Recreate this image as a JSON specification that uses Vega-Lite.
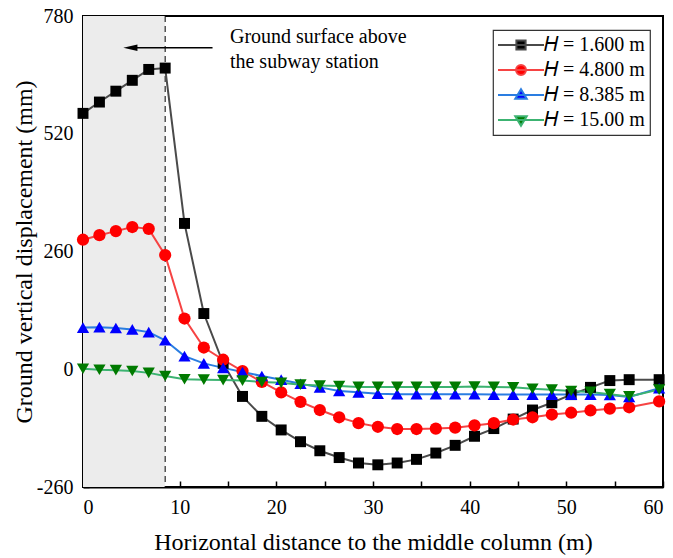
{
  "$schema": "https://vega.github.io/schema/vega-lite/v6.json",
  "width": 580,
  "height": 471,
  "autosize": {"type": "none"},
  "padding": {"left": 83, "top": 16, "right": 10, "bottom": 71},
  "background": "white",
  "config": {
    "font": "Liberation Serif",
    "view": {"stroke": "black", "strokeWidth": 2},
    "axis": {"grid": false, "domainColor": "black", "domainWidth": 2, "tickColor": "black", "tickWidth": 1.5, "labelColor": "black", "titleColor": "black", "labelFont": "Liberation Serif", "titleFont": "Liberation Serif", "labelFontSize": 20, "titleFontSize": 24, "titleFontWeight": "normal"},
    "legend": {"disable": false, "orient": "none", "legendX": 410, "legendY": 14, "strokeColor": "#333333", "strokeWidth": 1.2, "fillColor": "white", "padding": 5, "labelFont": "Liberation Serif", "labelFontSize": 20, "labelColor": "black", "symbolSize": 235, "symbolStrokeWidth": 2, "symbolOpacity": 1, "symbolOffset": 13, "labelOffset": 13, "rowPadding": 5}
  },
  "datasets": {
    "pts": [
      {"x": 0, "y": 565, "s": "H = 1.600 m"}, {"x": 1.7, "y": 590, "s": "H = 1.600 m"}, {"x": 3.4, "y": 614, "s": "H = 1.600 m"}, {"x": 5.1, "y": 638, "s": "H = 1.600 m"}, {"x": 6.8, "y": 662, "s": "H = 1.600 m"}, {"x": 8.5, "y": 665, "s": "H = 1.600 m"}, {"x": 10.5, "y": 322, "s": "H = 1.600 m"}, {"x": 12.5, "y": 123, "s": "H = 1.600 m"}, {"x": 14.5, "y": 13, "s": "H = 1.600 m"}, {"x": 16.5, "y": -60, "s": "H = 1.600 m"}, {"x": 18.5, "y": -104, "s": "H = 1.600 m"}, {"x": 20.5, "y": -134, "s": "H = 1.600 m"}, {"x": 22.5, "y": -160, "s": "H = 1.600 m"}, {"x": 24.5, "y": -180, "s": "H = 1.600 m"}, {"x": 26.5, "y": -195, "s": "H = 1.600 m"}, {"x": 28.5, "y": -207, "s": "H = 1.600 m"}, {"x": 30.5, "y": -211, "s": "H = 1.600 m"}, {"x": 32.5, "y": -207, "s": "H = 1.600 m"}, {"x": 34.5, "y": -199, "s": "H = 1.600 m"}, {"x": 36.5, "y": -185, "s": "H = 1.600 m"}, {"x": 38.5, "y": -168, "s": "H = 1.600 m"}, {"x": 40.5, "y": -148, "s": "H = 1.600 m"}, {"x": 42.5, "y": -131, "s": "H = 1.600 m"}, {"x": 44.5, "y": -110, "s": "H = 1.600 m"}, {"x": 46.5, "y": -90, "s": "H = 1.600 m"}, {"x": 48.5, "y": -74, "s": "H = 1.600 m"}, {"x": 50.5, "y": -56, "s": "H = 1.600 m"}, {"x": 52.5, "y": -40, "s": "H = 1.600 m"}, {"x": 54.5, "y": -25, "s": "H = 1.600 m"}, {"x": 56.5, "y": -23, "s": "H = 1.600 m"}, {"x": 59.6, "y": -23, "s": "H = 1.600 m"},
      {"x": 0, "y": 286, "s": "H = 4.800 m"}, {"x": 1.7, "y": 296, "s": "H = 4.800 m"}, {"x": 3.4, "y": 305, "s": "H = 4.800 m"}, {"x": 5.1, "y": 314, "s": "H = 4.800 m"}, {"x": 6.8, "y": 310, "s": "H = 4.800 m"}, {"x": 8.5, "y": 252, "s": "H = 4.800 m"}, {"x": 10.5, "y": 112, "s": "H = 4.800 m"}, {"x": 12.5, "y": 48, "s": "H = 4.800 m"}, {"x": 14.5, "y": 21, "s": "H = 4.800 m"}, {"x": 16.5, "y": -4, "s": "H = 4.800 m"}, {"x": 18.5, "y": -28, "s": "H = 4.800 m"}, {"x": 20.5, "y": -51, "s": "H = 4.800 m"}, {"x": 22.5, "y": -72, "s": "H = 4.800 m"}, {"x": 24.5, "y": -90, "s": "H = 4.800 m"}, {"x": 26.5, "y": -106, "s": "H = 4.800 m"}, {"x": 28.5, "y": -119, "s": "H = 4.800 m"}, {"x": 30.5, "y": -127, "s": "H = 4.800 m"}, {"x": 32.5, "y": -132, "s": "H = 4.800 m"}, {"x": 34.5, "y": -132, "s": "H = 4.800 m"}, {"x": 36.5, "y": -131, "s": "H = 4.800 m"}, {"x": 38.5, "y": -129, "s": "H = 4.800 m"}, {"x": 40.5, "y": -124, "s": "H = 4.800 m"}, {"x": 42.5, "y": -119, "s": "H = 4.800 m"}, {"x": 44.5, "y": -111, "s": "H = 4.800 m"}, {"x": 46.5, "y": -106, "s": "H = 4.800 m"}, {"x": 48.5, "y": -100, "s": "H = 4.800 m"}, {"x": 50.5, "y": -96, "s": "H = 4.800 m"}, {"x": 52.5, "y": -91, "s": "H = 4.800 m"}, {"x": 54.5, "y": -87, "s": "H = 4.800 m"}, {"x": 56.5, "y": -84, "s": "H = 4.800 m"}, {"x": 59.6, "y": -71, "s": "H = 4.800 m"},
      {"x": 0, "y": 92, "s": "H = 8.385 m"}, {"x": 1.7, "y": 93, "s": "H = 8.385 m"}, {"x": 3.4, "y": 91, "s": "H = 8.385 m"}, {"x": 5.1, "y": 88, "s": "H = 8.385 m"}, {"x": 6.8, "y": 82, "s": "H = 8.385 m"}, {"x": 8.5, "y": 64, "s": "H = 8.385 m"}, {"x": 10.5, "y": 29, "s": "H = 8.385 m"}, {"x": 12.5, "y": 13, "s": "H = 8.385 m"}, {"x": 14.5, "y": 3, "s": "H = 8.385 m"}, {"x": 16.5, "y": -6, "s": "H = 8.385 m"}, {"x": 18.5, "y": -15, "s": "H = 8.385 m"}, {"x": 20.5, "y": -23, "s": "H = 8.385 m"}, {"x": 22.5, "y": -32, "s": "H = 8.385 m"}, {"x": 24.5, "y": -40, "s": "H = 8.385 m"}, {"x": 26.5, "y": -48, "s": "H = 8.385 m"}, {"x": 28.5, "y": -51, "s": "H = 8.385 m"}, {"x": 30.5, "y": -54, "s": "H = 8.385 m"}, {"x": 32.5, "y": -55, "s": "H = 8.385 m"}, {"x": 34.5, "y": -55, "s": "H = 8.385 m"}, {"x": 36.5, "y": -55, "s": "H = 8.385 m"}, {"x": 38.5, "y": -55, "s": "H = 8.385 m"}, {"x": 40.5, "y": -55, "s": "H = 8.385 m"}, {"x": 42.5, "y": -56, "s": "H = 8.385 m"}, {"x": 44.5, "y": -56, "s": "H = 8.385 m"}, {"x": 46.5, "y": -56, "s": "H = 8.385 m"}, {"x": 48.5, "y": -56, "s": "H = 8.385 m"}, {"x": 50.5, "y": -56, "s": "H = 8.385 m"}, {"x": 52.5, "y": -56, "s": "H = 8.385 m"}, {"x": 54.5, "y": -57, "s": "H = 8.385 m"}, {"x": 56.5, "y": -61, "s": "H = 8.385 m"}, {"x": 59.6, "y": -42, "s": "H = 8.385 m"},
      {"x": 0, "y": 1, "s": "H = 15.00 m"}, {"x": 1.7, "y": -1, "s": "H = 15.00 m"}, {"x": 3.4, "y": -2, "s": "H = 15.00 m"}, {"x": 5.1, "y": -4, "s": "H = 15.00 m"}, {"x": 6.8, "y": -8, "s": "H = 15.00 m"}, {"x": 8.5, "y": -15, "s": "H = 15.00 m"}, {"x": 10.5, "y": -22, "s": "H = 15.00 m"}, {"x": 12.5, "y": -23, "s": "H = 15.00 m"}, {"x": 14.5, "y": -24, "s": "H = 15.00 m"}, {"x": 16.5, "y": -25, "s": "H = 15.00 m"}, {"x": 18.5, "y": -28, "s": "H = 15.00 m"}, {"x": 20.5, "y": -30, "s": "H = 15.00 m"}, {"x": 22.5, "y": -34, "s": "H = 15.00 m"}, {"x": 24.5, "y": -36, "s": "H = 15.00 m"}, {"x": 26.5, "y": -37, "s": "H = 15.00 m"}, {"x": 28.5, "y": -39, "s": "H = 15.00 m"}, {"x": 30.5, "y": -39, "s": "H = 15.00 m"}, {"x": 32.5, "y": -39, "s": "H = 15.00 m"}, {"x": 34.5, "y": -39, "s": "H = 15.00 m"}, {"x": 36.5, "y": -39, "s": "H = 15.00 m"}, {"x": 38.5, "y": -39, "s": "H = 15.00 m"}, {"x": 40.5, "y": -38, "s": "H = 15.00 m"}, {"x": 42.5, "y": -39, "s": "H = 15.00 m"}, {"x": 44.5, "y": -40, "s": "H = 15.00 m"}, {"x": 46.5, "y": -43, "s": "H = 15.00 m"}, {"x": 48.5, "y": -45, "s": "H = 15.00 m"}, {"x": 50.5, "y": -48, "s": "H = 15.00 m"}, {"x": 52.5, "y": -50, "s": "H = 15.00 m"}, {"x": 54.5, "y": -55, "s": "H = 15.00 m"}, {"x": 56.5, "y": -60, "s": "H = 15.00 m"}, {"x": 59.6, "y": -45, "s": "H = 15.00 m"}
    ],
    "series": [
      {"s": "H = 1.600 m", "x": 30, "y": 0},
      {"s": "H = 4.800 m", "x": 30, "y": 0},
      {"s": "H = 8.385 m", "x": 30, "y": 0},
      {"s": "H = 15.00 m", "x": 30, "y": 0}
    ]
  },
  "layer": [
    {
      "data": {"values": [{"a": 0, "b": 8.5}]},
      "mark": {"type": "rect", "fill": "#ececec", "y": 0, "y2": {"expr": "height"}},
      "encoding": {
        "x": {"field": "a", "type": "quantitative", "scale": {"domain": [0, 60], "nice": false}},
        "x2": {"field": "b"}
      }
    },
    {
      "data": {"values": [{"a": 8.5}]},
      "mark": {"type": "rule", "color": "black", "strokeDash": [6, 4], "strokeWidth": 1},
      "encoding": {"x": {"field": "a", "type": "quantitative"}}
    },
    {
      "data": {"values": [{"x1": 13.4, "x2": 5.2, "y": 710}]},
      "mark": {"type": "rule", "color": "black", "strokeWidth": 1.5},
      "encoding": {"x": {"field": "x1", "type": "quantitative"}, "x2": {"field": "x2"}, "y": {"field": "y", "type": "quantitative"}}
    },
    {
      "data": {"values": [{"x": 4.9, "y": 710}]},
      "mark": {"type": "point", "shape": "M-1,0L1,-0.45L1,0.45Z", "filled": true, "color": "black", "size": 200, "opacity": 1},
      "encoding": {"x": {"field": "x", "type": "quantitative"}, "y": {"field": "y", "type": "quantitative"}}
    },
    {
      "data": {"values": [{"x": 15.2, "y": 733, "t": "Ground surface above"}, {"x": 15.2, "y": 678, "t": "the subway station"}]},
      "mark": {"type": "text", "align": "left", "baseline": "middle", "font": "Liberation Serif", "fontSize": 20, "color": "black"},
      "encoding": {"x": {"field": "x", "type": "quantitative"}, "y": {"field": "y", "type": "quantitative"}, "text": {"field": "t"}}
    },
    {
      "data": {"name": "series"},
      "mark": {"type": "point", "filled": true, "opacity": 0, "strokeWidth": 2, "size": 235},
      "encoding": {
        "x": {"field": "x", "type": "quantitative", "title": "Horizontal distance to the middle column (m)",
          "axis": {"values": [0, 5, 10, 15, 20, 25, 30, 35, 40, 45, 50, 55, 60], "labelExpr": "datum.value % 10 == 0 ? datum.label : ''", "tickSize": -6, "labelPadding": 16, "titlePadding": 13}},
        "y": {"field": "y", "type": "quantitative", "title": "Ground vertical displacement (mm)",
          "scale": {"domain": [-260, 780], "nice": false},
          "axis": {"values": [-260, -130, 0, 130, 260, 390, 520, 650, 780], "labelExpr": "datum.value % 260 == 0 ? replace(datum.label, '\u2212', '-') : ''", "tickSize": -6, "labelPadding": 16, "titlePadding": 0}},
        "stroke": {"field": "s", "type": "nominal",
          "scale": {"domain": ["H = 1.600 m", "H = 4.800 m", "H = 8.385 m", "H = 15.00 m"], "range": ["#4a4a4a", "#f64343", "#2a7de1", "#3cb371"]},
          "legend": {"disable": false, "title": null, "labelExpr": "replace(datum.label, 'H', '\ud835\udc3b')"}},
        "fill": {"field": "s", "type": "nominal",
          "scale": {"domain": ["H = 1.600 m", "H = 4.800 m", "H = 8.385 m", "H = 15.00 m"], "range": ["#000000", "#ff0000", "#0000ff", "#007a00"]},
          "legend": {"disable": false, "title": null, "labelExpr": "replace(datum.label, 'H', '\ud835\udc3b')"}},
        "shape": {"field": "s", "type": "nominal",
          "scale": {"domain": ["H = 1.600 m", "H = 4.800 m", "H = 8.385 m", "H = 15.00 m"], "range": ["M-3,0H3M-0.6,-0.6H0.6V0.6H-0.6Z", "M-3,0H3M0.65,0A0.65,0.65 0 1,1 -0.65,0A0.65,0.65 0 1,1 0.65,0Z", "M-3,0H3M0,-0.75L0.75,0.5H-0.75Z", "M-3,0H3M0,0.75L0.75,-0.5H-0.75Z"]},
          "legend": {"disable": false, "title": null, "labelExpr": "replace(datum.label, 'H', '\ud835\udc3b')"}}
      }
    },
    {
      "data": {"name": "pts"},
      "transform": [{"filter": "datum.s == 'H = 1.600 m'"}],
      "mark": {"type": "line", "strokeWidth": 2, "color": "#4a4a4a"},
      "encoding": {"x": {"field": "x", "type": "quantitative"}, "y": {"field": "y", "type": "quantitative"}}
    },
    {
      "data": {"name": "pts"},
      "transform": [{"filter": "datum.s == 'H = 4.800 m'"}],
      "mark": {"type": "line", "strokeWidth": 2, "color": "#f64343"},
      "encoding": {"x": {"field": "x", "type": "quantitative"}, "y": {"field": "y", "type": "quantitative"}}
    },
    {
      "data": {"name": "pts"},
      "transform": [{"filter": "datum.s == 'H = 8.385 m'"}],
      "mark": {"type": "line", "strokeWidth": 2, "color": "#2a7de1"},
      "encoding": {"x": {"field": "x", "type": "quantitative"}, "y": {"field": "y", "type": "quantitative"}}
    },
    {
      "data": {"name": "pts"},
      "transform": [{"filter": "datum.s == 'H = 15.00 m'"}],
      "mark": {"type": "line", "strokeWidth": 2, "color": "#3cb371"},
      "encoding": {"x": {"field": "x", "type": "quantitative"}, "y": {"field": "y", "type": "quantitative"}}
    },
    {
      "data": {"name": "pts"},
      "transform": [{"filter": "datum.s == 'H = 1.600 m'"}],
      "mark": {"type": "point", "shape": "square", "filled": true, "opacity": 1, "color": "#000000", "size": 120},
      "encoding": {"x": {"field": "x", "type": "quantitative"}, "y": {"field": "y", "type": "quantitative"}}
    },
    {
      "data": {"name": "pts"},
      "transform": [{"filter": "datum.s == 'H = 4.800 m'"}],
      "mark": {"type": "point", "shape": "circle", "filled": true, "opacity": 1, "color": "#ff0000", "size": 150},
      "encoding": {"x": {"field": "x", "type": "quantitative"}, "y": {"field": "y", "type": "quantitative"}}
    },
    {
      "data": {"name": "pts"},
      "transform": [{"filter": "datum.s == 'H = 8.385 m'"}],
      "mark": {"type": "point", "shape": "triangle-up", "filled": true, "opacity": 1, "color": "#0000ff", "size": 150},
      "encoding": {"x": {"field": "x", "type": "quantitative"}, "y": {"field": "y", "type": "quantitative"}}
    },
    {
      "data": {"name": "pts"},
      "transform": [{"filter": "datum.s == 'H = 15.00 m'"}],
      "mark": {"type": "point", "shape": "triangle-down", "filled": true, "opacity": 1, "color": "#007a00", "size": 150},
      "encoding": {"x": {"field": "x", "type": "quantitative"}, "y": {"field": "y", "type": "quantitative"}}
    }
  ]
}
